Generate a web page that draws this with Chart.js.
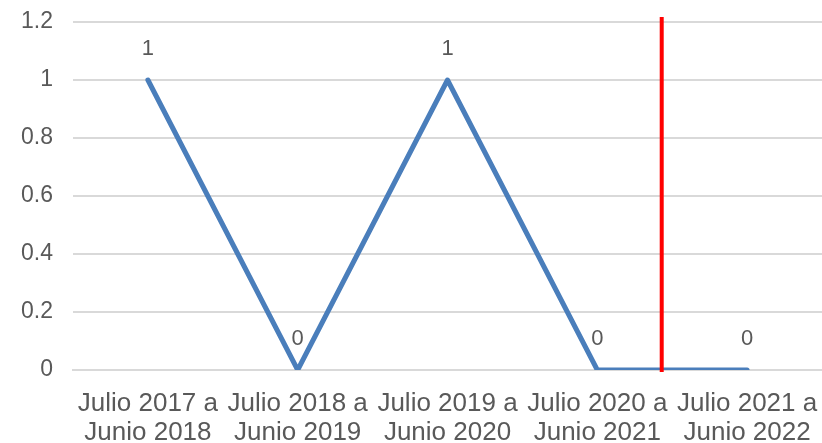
<!DOCTYPE html>
<html lang="es">
<head>
  <meta charset="UTF-8">
  <title>Serie anual</title>
  <script src="https://cdn.jsdelivr.net/npm/chart.js"></script>
  <style>
    html, body { margin: 0; padding: 0; background: #fff; }
    #wrap { width: 822px; height: 443px; }
  </style>
</head>
<body>
  <div id="wrap"><canvas id="lineChart" width="822" height="443"></canvas></div>

  <script>
    const periodos = [
      ['Julio 2017 a', 'Junio 2018'],
      ['Julio 2018 a', 'Junio 2019'],
      ['Julio 2019 a', 'Junio 2020'],
      ['Julio 2020 a', 'Junio 2021'],
      ['Julio 2021 a', 'Junio 2022']
    ];
    const valores = [1, 0, 1, 0, 0];
    const yTicks = [0, 0.2, 0.4, 0.6, 0.8, 1, 1.2];
    // posición de la línea roja, en unidades de categoría
    const lineaRoja = 3.43;

    const textColor = '#595959';
    const font = 'Liberation Sans, Arial, sans-serif';

    // etiquetas de datos encima de cada punto
    const dataLabels = {
      id: 'dataLabels',
      afterDatasetsDraw(chart) {
        const ctx = chart.ctx;
        const meta = chart.getDatasetMeta(0);
        ctx.save();
        ctx.fillStyle = textColor;
        ctx.font = '22px ' + font;
        ctx.textAlign = 'center';
        ctx.textBaseline = 'middle';
        meta.data.forEach((pt, i) => {
          ctx.fillText(String(valores[i]), pt.x, pt.y - 31);
        });
        ctx.restore();
      }
    };

    const redLine = {
      id: 'redLine',
      afterDatasetsDraw(chart) {
        const x = chart.scales.x.getPixelForValue(lineaRoja);
        const y = chart.scales.y;
        const ctx = chart.ctx;
        ctx.save();
        ctx.strokeStyle = '#ff0000';
        ctx.lineWidth = 4;
        ctx.beginPath();
        ctx.moveTo(x, y.top - 5);
        ctx.lineTo(x, y.bottom + 2);
        ctx.stroke();
        ctx.restore();
      }
    };

    new Chart(document.getElementById('lineChart'), {
      type: 'line',
      data: {
        labels: periodos,
        datasets: [{
          data: valores,
          borderColor: '#4a7ebb',
          borderWidth: 5,
          pointRadius: 0,
          fill: false,
          tension: 0,
          borderCapStyle: 'round',
          borderJoinStyle: 'round'
        }]
      },
      options: {
        responsive: false,
        animation: false,
        layout: { padding: { top: 22, right: 0, left: 0, bottom: 0 } },
        plugins: { legend: { display: false }, tooltip: { enabled: false } },
        scales: {
          x: {
            offset: true,
            grid: { display: false, drawTicks: false },
            border: { display: true, color: '#d9d9d9', width: 2 },
            ticks: {
              color: textColor,
              font: { family: font, size: 26, lineHeight: 1.1 },
              maxRotation: 0,
              minRotation: 0,
              autoSkip: false,
              padding: 20
            },
            afterFit(s) { s.height = 73; s.paddingLeft = 0; s.paddingRight = 0; }
          },
          y: {
            min: 0,
            max: 1.2,
            afterBuildTicks(s) { s.ticks = yTicks.map(v => ({ value: v })); },
            grid: { color: '#d9d9d9', lineWidth: 2, drawTicks: false },
            border: { display: false },
            ticks: {
              color: textColor,
              font: { family: font, size: 23 },
              padding: 20,
              callback: v => String(v)
            },
            afterFit(s) { s.width = 73; s.paddingTop = 0; s.paddingBottom = 0; }
          }
        }
      },
      plugins: [dataLabels, redLine]
    });
  </script>
</body>
</html>
